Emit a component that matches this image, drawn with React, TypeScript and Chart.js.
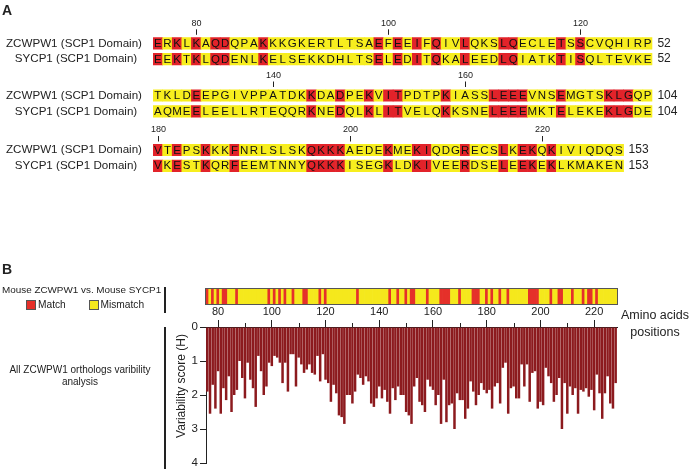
import React, { useEffect, useRef } from 'react';
import { Chart, registerables } from 'chart.js';
Chart.register(...registerables);

const FONT = '"Liberation Sans", Arial, Helvetica, sans-serif';

// ---------- DATA ----------
const zcwpw1Rows = [
  'ERKLKAQDQPAKKKGKERTLTSAEFEEIFQIVLQKSLQECLETSSCVQHIRP',
  'TKLDEEPGIVPPATDKKDADPEKVITPDTPKIASSLEEEVNSEMGTSKLGQP',
  'VTEPSKKKFNRLSLSKQKKKAEDEKMEKIQDGRECSLKEKQKIVIQDQS',
];
const sycp1Rows = [
  'EEKTKLQDENLKELSEKKDHLTSELEDITQKALEEDLQIATKTISQLTEVKE',
  'AQMEELEELLRTEQQRKNEDQLKLITVELQKKSNELEEEMKTELEKEKLGDE',
  'VKESTKQRFEEMTNNYQKKKISEGKLDKIVEERDSELEEKEKLKMAKEN',
];
const rowStartPositions = [76, 128, 180];
const rowEndCounts = [52, 104, 153];
const rowMarks = [[80, 100, 120], [140, 160], [180, 200, 220]];
const seqNames = ['ZCWPW1 (SCP1 Domain)', 'SYCP1 (SCP1 Domain)'];

const firstPosition = 76;
const xTickValues = [80, 90, 100, 110, 120, 130, 140, 150, 160, 170, 180, 190, 200, 210, 220];
const xLabelValues = [80, 100, 120, 140, 160, 180, 200, 220];
const yTickValues = [0, 1, 2, 3, 4];

const variability = [
  1.9, 2.55, 1.7, 2.4, 1.3, 2.55, 1.8, 2.15, 1.45, 2.5,
  2.0, 1.85, 1.0, 1.5, 2.1, 1.05, 1.55, 1.8, 2.35, 0.85,
  1.3, 2.0, 1.75, 1.05, 1.15, 0.85, 0.9, 1.05, 1.65, 1.05,
  1.9, 0.8, 0.8, 1.75, 0.9, 1.1, 1.35, 1.25, 1.1, 1.35,
  1.4, 0.85, 1.6, 0.8, 1.55, 1.65, 2.2, 1.7, 1.95, 2.6,
  2.65, 2.85, 2.0, 2.0, 2.25, 1.9, 1.4, 1.5, 1.7, 1.45,
  1.6, 2.25, 2.35, 2.1, 1.75, 2.1, 1.85, 2.2, 2.55, 1.8,
  2.15, 1.75, 2.0, 2.0, 2.5, 2.6, 2.85, 1.75, 1.5, 2.2,
  2.3, 2.5, 1.55, 1.75, 1.85, 2.3, 2.0, 2.85, 1.55, 2.8,
  2.3, 2.25, 3.0, 1.95, 2.15, 2.15, 2.7, 2.4, 1.6, 1.9,
  2.3, 2.0, 1.65, 1.85, 1.95, 1.85, 2.4, 1.75, 1.65, 2.25,
  1.2, 1.05, 2.55, 1.8, 1.75, 2.1, 2.1, 1.1, 1.75, 1.1,
  2.2, 1.35, 1.3, 2.4, 2.2, 2.3, 1.2, 1.45, 1.65, 2.2,
  2.0, 1.5, 3.0, 1.65, 2.55, 1.75, 2.0, 1.8, 2.55, 1.85,
  1.9, 1.8, 2.05, 1.85, 2.45, 1.4, 1.95, 2.7, 1.95, 1.45,
  2.25, 2.4, 1.65,
];

// ---------- STYLE ----------
const RED_A = '#e2232a';
const YELLOW_A = '#f7ee1e';
const RED_B = '#e5302a';
const YELLOW_B = '#f5e81c';
const BAR = '#8c1a1e';
const INK = '#222';

const zAll = zcwpw1Rows.join('');
const sAll = sycp1Rows.join('');
const matchFlags = zAll.split('').map((c, i) => c === sAll[i]);
const positions = matchFlags.map((_, i) => firstPosition + i);

function AlignmentPanel() {
  const ref = useRef<HTMLCanvasElement>(null);
  useEffect(() => {
    const ROW_Z = [43.3, 95.5, 150];
    const ROW_GAP = 15.8;
    const cells: any[] = [];
    zcwpw1Rows.forEach((zr, b) => {
      const sr = sycp1Rows[b];
      for (let i = 0; i < zr.length; i++) {
        const m = zr[i] === sr[i];
        cells.push({ x: [i, i + 1], y: ROW_Z[b], ch: zr[i], m });
        cells.push({ x: [i, i + 1], y: ROW_Z[b] + ROW_GAP, ch: sr[i], m });
      }
    });
    const textPlugin = {
      id: 'alignText',
      afterDatasetsDraw(chart: any) {
        const { ctx, scales } = chart;
        const xs = scales.x;
        const ys = scales.y;
        ctx.save();
        ctx.fillStyle = '#111';
        ctx.textBaseline = 'middle';
        ctx.textAlign = 'center';
        ctx.font = `11.5px ${FONT}`;
        cells.forEach((d) => {
          ctx.fillText(d.ch, xs.getPixelForValue(d.x[0] + 0.5), ys.getPixelForValue(d.y) + 0.5);
        });
        ROW_Z.forEach((zy, b) => {
          ctx.fillStyle = INK;
          ctx.textAlign = 'center';
          ctx.font = `11.6px ${FONT}`;
          ctx.fillText(seqNames[0], 74, ys.getPixelForValue(zy));
          ctx.fillText(seqNames[1], 76, ys.getPixelForValue(zy + ROW_GAP));
          ctx.textAlign = 'left';
          ctx.font = `12px ${FONT}`;
          const endX = xs.getPixelForValue(zcwpw1Rows[b].length) + 5;
          ctx.fillText(String(rowEndCounts[b]), endX, ys.getPixelForValue(zy));
          ctx.fillText(String(rowEndCounts[b]), endX, ys.getPixelForValue(zy + ROW_GAP));
          ctx.textAlign = 'center';
          ctx.font = `9px ${FONT}`;
          rowMarks[b].forEach((p) => {
            const idx = p - rowStartPositions[b];
            const px = Math.round(xs.getPixelForValue(idx + 0.5)) + 0.5;
            ctx.fillText(String(p), px, ys.getPixelForValue(zy - 20));
            ctx.strokeStyle = INK;
            ctx.lineWidth = 1;
            ctx.beginPath();
            ctx.moveTo(px, ys.getPixelForValue(zy - 14));
            ctx.lineTo(px, ys.getPixelForValue(zy - 8.5));
            ctx.stroke();
          });
        });
        ctx.restore();
      },
    };
    const chart = new Chart(ref.current!, {
      type: 'bar',
      data: {
        datasets: [
          {
            data: cells,
            backgroundColor: (c: any) => (c.raw && c.raw.m ? RED_A : YELLOW_A),
            borderWidth: 0,
            barThickness: 11.5,
          } as any,
        ],
      },
      options: {
        indexAxis: 'y',
        animation: false,
        responsive: false,
        events: [],
        layout: { padding: { left: 153, right: 692 - 652.4, top: 0, bottom: 0 } },
        plugins: { legend: { display: false }, tooltip: { enabled: false } },
        scales: {
          x: { type: 'linear', min: 0, max: 52, display: false, offset: false },
          y: { type: 'linear', min: 0, max: 185, reverse: true, display: false, offset: false },
        },
      } as any,
      plugins: [textPlugin],
    });
    return () => chart.destroy();
  }, []);
  return <canvas ref={ref} width={692} height={185} style={{ position: 'absolute', left: 0, top: 0 }} />;
}

function StripPanel() {
  const ref = useRef<HTMLCanvasElement>(null);
  useEffect(() => {
    const borderPlugin = {
      id: 'stripBorder',
      afterDatasetsDraw(chart: any) {
        const { ctx, chartArea: a } = chart;
        ctx.save();
        ctx.strokeStyle = '#555';
        ctx.lineWidth = 1;
        ctx.strokeRect(a.left - 0.5, a.top - 0.5, a.right - a.left + 1, a.bottom - a.top + 1);
        ctx.restore();
      },
    };
    const chart = new Chart(ref.current!, {
      type: 'bar',
      data: {
        datasets: [
          {
            data: positions.map((p) => ({ x: p, y: 1 })),
            backgroundColor: matchFlags.map((m) => (m ? RED_B : YELLOW_B)),
            borderWidth: 0,
            barPercentage: 1,
            categoryPercentage: 1,
          } as any,
        ],
      },
      options: {
        animation: false,
        responsive: false,
        events: [],
        layout: { padding: 1 },
        plugins: { legend: { display: false }, tooltip: { enabled: false } },
        scales: {
          x: { type: 'linear', min: 75.5, max: 228.5, display: false, offset: false },
          y: { type: 'linear', min: 0, max: 1, display: false },
        },
      } as any,
      plugins: [borderPlugin],
    });
    return () => chart.destroy();
  }, []);
  return <canvas ref={ref} width={413} height={17} style={{ position: 'absolute', left: 205, top: 288 }} />;
}

function VariabilityPanel() {
  const ref = useRef<HTMLCanvasElement>(null);
  useEffect(() => {
    const minorTicks = {
      id: 'minorTicks',
      afterDraw(chart: any) {
        const { ctx, chartArea: a, scales } = chart;
        ctx.save();
        ctx.strokeStyle = INK;
        ctx.lineWidth = 1;
        xTickValues.forEach((v) => {
          if (xLabelValues.includes(v)) return;
          const px = Math.round(scales.x.getPixelForValue(v)) + 0.5;
          ctx.beginPath();
          ctx.moveTo(px, a.top - 4);
          ctx.lineTo(px, a.top);
          ctx.stroke();
        });
        ctx.restore();
      },
    };
    const chart = new Chart(ref.current!, {
      type: 'bar',
      data: {
        datasets: [
          {
            data: variability.map((v, i) => ({ x: positions[i], y: v })),
            backgroundColor: BAR,
            borderWidth: 0,
            barPercentage: 0.93,
            categoryPercentage: 1,
          } as any,
        ],
      },
      options: {
        animation: false,
        responsive: false,
        events: [],
        layout: { padding: { left: 0, top: 0, right: 3, bottom: 10 } },
        plugins: { legend: { display: false }, tooltip: { enabled: false } },
        scales: {
          x: {
            type: 'linear',
            position: 'top',
            min: 75.5,
            max: 228.5,
            offset: false,
            afterBuildTicks: (s: any) => {
              s.ticks = xTickValues.map((v) => ({ value: v }));
            },
            afterFit: (s: any) => {
              s.height = 27;
            },
            ticks: {
              autoSkip: false,
              maxRotation: 0,
              padding: 1,
              color: INK,
              font: { family: FONT, size: 11 },
              callback: (v: any) => (xLabelValues.includes(v) ? String(v) : ''),
            },
            grid: {
              drawOnChartArea: false,
              offset: false,
              tickLength: 7,
              tickColor: (c: any) => (c.tick && xLabelValues.includes(c.tick.value) ? INK : 'rgba(0,0,0,0)'),
            },
            border: { display: true, color: INK },
          },
          y: {
            type: 'linear',
            reverse: true,
            min: 0,
            max: 4,
            afterBuildTicks: (s: any) => {
              s.ticks = yTickValues.map((v) => ({ value: v }));
            },
            afterFit: (s: any) => {
              s.width = 46;
            },
            ticks: { padding: 2, color: INK, font: { family: FONT, size: 11.5 } },
            grid: { drawOnChartArea: false, tickLength: 6, tickColor: INK },
            border: { display: true, color: INK },
            title: { display: false },
          },
        },
      } as any,
      plugins: [minorTicks],
    });
    return () => chart.destroy();
  }, []);
  return <canvas ref={ref} width={460} height={173} style={{ position: 'absolute', left: 160, top: 300 }} />;
}

const txt = (s: React.CSSProperties): React.CSSProperties => ({
  position: 'absolute',
  fontFamily: FONT,
  color: INK,
  whiteSpace: 'nowrap',
  lineHeight: 1,
  ...s,
});

export default function App() {
  return (
    <div style={{ position: 'absolute', left: 0, top: 0, width: 692, height: 473, background: '#fff', overflow: 'hidden' }}>
      <AlignmentPanel />
      <StripPanel />
      <VariabilityPanel />
      <div style={txt({ left: 2, top: 3, fontSize: 14, fontWeight: 'bold' })}>A</div>
      <div style={txt({ left: 2, top: 262, fontSize: 14, fontWeight: 'bold' })}>B</div>
      <div style={txt({ left: 2, top: 285, fontSize: 9.9 })}>Mouse ZCWPW1 vs. Mouse SYCP1</div>
      <div style={{ position: 'absolute', left: 26, top: 300, width: 8, height: 8, background: RED_B, border: '1px solid #555' }} />
      <div style={txt({ left: 38, top: 300, fontSize: 10.2 })}>Match</div>
      <div style={{ position: 'absolute', left: 89, top: 300, width: 8, height: 8, background: YELLOW_B, border: '1px solid #555' }} />
      <div style={txt({ left: 100.5, top: 300, fontSize: 10.2 })}>Mismatch</div>
      <div style={{ position: 'absolute', left: 164, top: 287, width: 2, height: 26, background: INK }} />
      <div style={{ position: 'absolute', left: 164, top: 327, width: 2, height: 142, background: INK }} />
      <div style={txt({ left: 0, width: 160, top: 364, fontSize: 10, textAlign: 'center', lineHeight: '12px', whiteSpace: 'normal' })}>
        All ZCWPW1 orthologs varibility
        <br />
        analysis
      </div>
      <div
        style={txt({
          left: 181,
          top: 386,
          fontSize: 12,
          transform: 'translate(-50%, -50%) rotate(-90deg)',
        })}
      >
        Variability score (H)
      </div>
      <div style={txt({ left: 615, width: 80, top: 306.5, fontSize: 12.5, textAlign: 'center', lineHeight: '17px' })}>
        Amino acids
        <br />
        positions
      </div>
    </div>
  );
}
